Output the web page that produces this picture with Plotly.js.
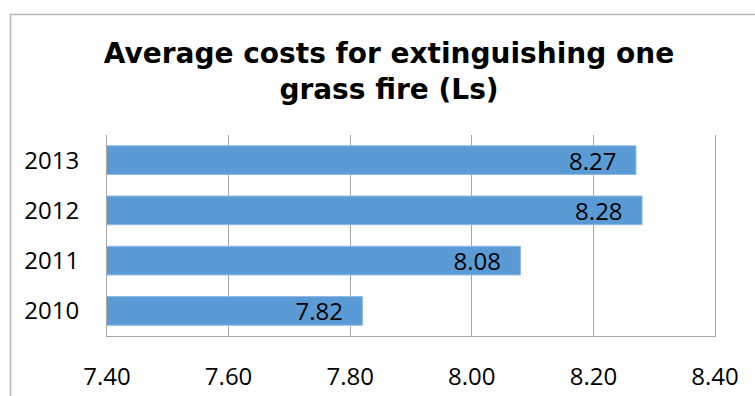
<!DOCTYPE html>
<html>
<head>
<meta charset="utf-8">
<script src="https://cdn.plot.ly/plotly-3.0.1.min.js"></script>
<style>
  html, body { margin: 0; padding: 0; background: #fff; }
  #chart { width: 755px; height: 396px; }
</style>
</head>
<body>
<div id="chart"></div>
<script>
// Average cost (Ls) of extinguishing one grass fire, per year
const years = ['2010', '2011', '2012', '2013'];
const costs = [7.82, 8.08, 8.28, 8.27];
const xTicks = [7.4, 7.6, 7.8, 8.0, 8.2, 8.4];

const labelFont = { family: 'Open Sans, sans-serif', size: 24, color: '#000' };
const gridGrey = '#a6a6a6';

const trace = {
  type: 'bar',
  orientation: 'h',
  y: years,
  x: costs,
  base: 0,
  marker: { color: '#5b9bd5', line: { color: '#8cb9e4', width: 1 } },
  texttemplate: '%{x:.2f}\u00a0\u00a0\u2009',
  textposition: 'inside',
  insidetextanchor: 'end',
  textangle: 0,
  textfont: labelFont,
  constraintext: 'none',
  cliponaxis: true,
  hoverinfo: 'skip'
};

const layout = {
  width: 755,
  height: 396,
  margin: { l: 107, r: 40, t: 135, b: 60 },
  paper_bgcolor: '#fff',
  plot_bgcolor: '#fff',
  showlegend: false,
  bargap: 0.43,
  title: {
    text: 'Average costs for extinguishing one<br>grass fire (Ls)',
    font: { family: 'DejaVu Sans, Verdana, sans-serif', size: 28, color: '#000', weight: 'bold' },
    xref: 'container',
    x: 389 / 755,
    xanchor: 'center',
    yref: 'container',
    y: 1 - 63 / 396,
    yanchor: 'top'
  },
  xaxis: {
    range: [7.4, 8.4],
    tickvals: xTicks,
    tickformat: '.2f',
    showgrid: true,
    gridcolor: gridGrey,
    gridwidth: 1,
    zeroline: false,
    showline: true,
    linecolor: gridGrey,
    linewidth: 1,
    ticks: 'outside',
    ticklen: 19,
    tickcolor: 'rgba(0,0,0,0)',
    tickfont: labelFont,
    fixedrange: true
  },
  yaxis: {
    type: 'category',
    categoryorder: 'array',
    categoryarray: years,
    showgrid: false,
    zeroline: false,
    showline: true,
    mirror: true,
    linecolor: gridGrey,
    linewidth: 1,
    ticks: 'outside',
    ticklen: 22,
    tickcolor: 'rgba(0,0,0,0)',
    tickfont: labelFont,
    fixedrange: true
  },
  shapes: [{
    // outer chart frame, running off the right and bottom edges
    type: 'rect',
    xref: 'paper', yref: 'paper',
    x0: (10.5 - 107) / 608, x1: 1.2,
    y0: -0.5, y1: (336 - 14.5) / 201,
    line: { color: '#b4b4b4', width: 1.5 },
    fillcolor: 'rgba(0,0,0,0)',
    layer: 'below'
  }]
};

Plotly.newPlot('chart', [trace], layout, { displayModeBar: false, staticPlot: true });
</script>
</body>
</html>
